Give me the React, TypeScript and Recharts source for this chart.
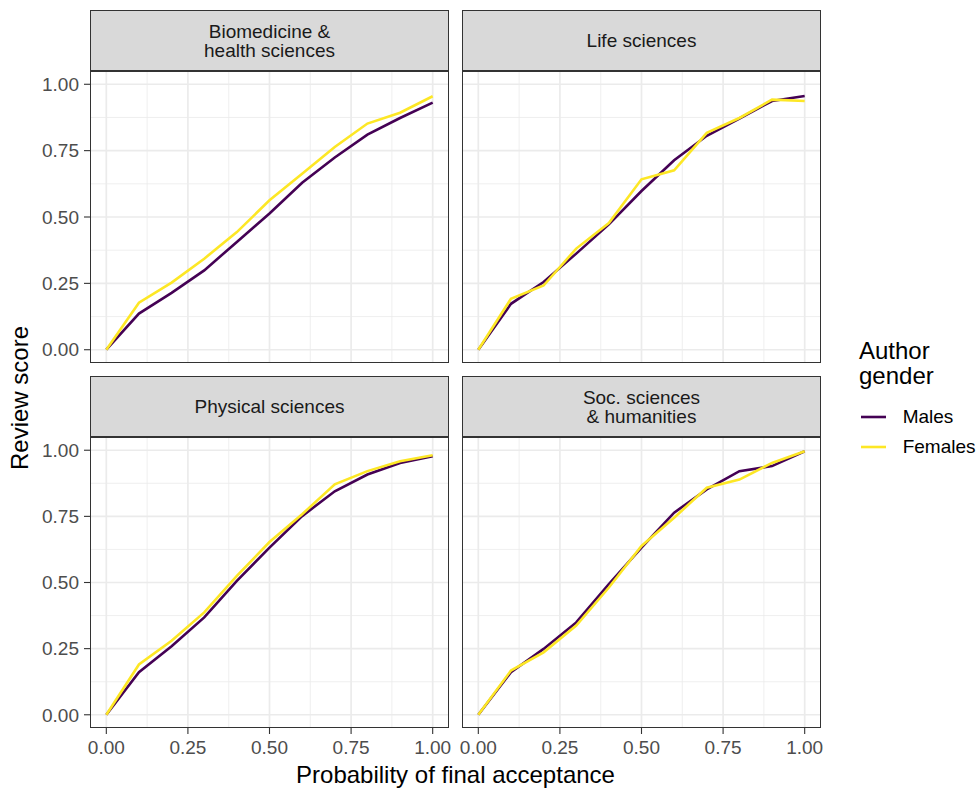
import React from 'react';
import { LineChart, Line, XAxis, YAxis, CartesianGrid } from 'recharts';

const FONT = '"Liberation Sans", Arial, Helvetica, sans-serif';

// ---- data ----
const probability = [0, 0.1, 0.2, 0.3, 0.4, 0.5, 0.6, 0.7, 0.8, 0.9, 1.0];
const bioMales = [0, 0.136, 0.214, 0.299, 0.406, 0.513, 0.629, 0.724, 0.81, 0.873, 0.931];
const bioFemales = [0, 0.177, 0.253, 0.343, 0.443, 0.563, 0.663, 0.764, 0.852, 0.893, 0.955];
const lifeMales = [0, 0.173, 0.255, 0.362, 0.472, 0.598, 0.714, 0.806, 0.871, 0.937, 0.956];
const lifeFemales = [0, 0.192, 0.242, 0.381, 0.477, 0.642, 0.676, 0.817, 0.873, 0.942, 0.937];
const physMales = [0, 0.161, 0.259, 0.368, 0.506, 0.632, 0.751, 0.845, 0.908, 0.952, 0.977];
const physFemales = [0, 0.19, 0.28, 0.387, 0.525, 0.653, 0.758, 0.871, 0.921, 0.958, 0.981];
const socMales = [0, 0.161, 0.249, 0.349, 0.494, 0.632, 0.764, 0.852, 0.921, 0.94, 0.996];
const socFemales = [0, 0.167, 0.236, 0.337, 0.481, 0.638, 0.745, 0.858, 0.889, 0.952, 0.996];

const facetTitles = ['Biomedicine &\nhealth sciences', 'Life sciences', 'Physical sciences', 'Soc. sciences\n& humanities'];
const seriesNames = ['Males', 'Females'];
const seriesColors = ['#440154', '#FDE725'];
const majorTicks = [0, 0.25, 0.5, 0.75, 1];
const minorTicks = [0.125, 0.375, 0.625, 0.875];
const xTitle = 'Probability of final acceptance';
const yTitle = 'Review score';
const legendTitle = 'Author\ngender';

const build = (m: number[], f: number[]) => probability.map((p, i) => ({ p, m: m[i], f: f[i] }));

const facets = [
  { title: facetTitles[0], data: build(bioMales, bioFemales) },
  { title: facetTitles[1], data: build(lifeMales, lifeFemales) },
  { title: facetTitles[2], data: build(physMales, physFemales) },
  { title: facetTitles[3], data: build(socMales, socFemales) },
];

// layout
const PW = 359;
const PAD = 24;
const layout = [
  { x: 90, y: 71, h: 292, showX: false, showY: true, stripTop: 10 },
  { x: 462, y: 71, h: 292, showX: false, showY: false, stripTop: 10 },
  { x: 90, y: 437, h: 291, showX: true, showY: true, stripTop: 376 },
  { x: 462, y: 437, h: 291, showX: true, showY: false, stripTop: 376 },
];

const tickStyle = { fontSize: 19, fill: '#4D4D4D', fontFamily: FONT };
const fmt = (v: number) => v.toFixed(2);

function Panel({ idx }: { idx: number }) {
  const L = layout[idx];
  const F = facets[idx];
  const yW = L.showY ? 90 : 0;
  const xH = L.showX ? 40 : 0;
  const lines = F.title.split('\n');
  return (
    <>
      <div
        style={{
          position: 'absolute',
          left: L.x,
          top: L.stripTop,
          width: PW,
          height: L.y - L.stripTop,
          boxSizing: 'border-box',
          background: '#D9D9D9',
          border: '1.1px solid #333333',
          display: 'flex',
          flexDirection: 'column',
          justifyContent: 'center',
          alignItems: 'center',
          fontFamily: FONT,
          fontSize: 19,
          lineHeight: '19px',
          color: '#1A1A1A',
        }}
      >
        {lines.map((t, i) => (
          <div key={i}>{t}</div>
        ))}
      </div>
      <div style={{ position: 'absolute', left: L.x - yW - PAD, top: L.y }}>
        <LineChart
          width={PW + yW + 2 * PAD}
          height={L.h + xH}
          data={F.data}
          margin={{ top: 0, right: PAD, bottom: 0, left: PAD }}
        >
          <CartesianGrid
            stroke="#EBEBEB"
            strokeWidth={0.8}
            horizontalValues={minorTicks}
            verticalValues={minorTicks}
          />
          <CartesianGrid
            stroke="#EBEBEB"
            strokeWidth={1.7}
            horizontalValues={majorTicks}
            verticalValues={majorTicks}
          />
          <XAxis
            dataKey="p"
            type="number"
            domain={[-0.05, 1.05]}
            allowDataOverflow
            ticks={majorTicks}
            tickFormatter={fmt}
            hide={!L.showX}
            height={xH || 30}
            axisLine={false}
            tickLine={{ stroke: '#333333', strokeWidth: 1.1 }}
            tickSize={6}
            tickMargin={7}
            tick={tickStyle}
            interval={0}
          />
          <YAxis
            type="number"
            domain={[-0.05, 1.05]}
            allowDataOverflow
            ticks={majorTicks}
            tickFormatter={fmt}
            hide={!L.showY}
            width={yW || 60}
            axisLine={false}
            tickLine={{ stroke: '#333333', strokeWidth: 1.1 }}
            tickSize={6}
            tickMargin={5}
            tick={tickStyle}
            interval={0}
          />
          <Line
            dataKey="m"
            name={seriesNames[0]}
            stroke={seriesColors[0]}
            strokeWidth={2.6}
            dot={false}
            activeDot={false}
            isAnimationActive={false}
          />
          <Line
            dataKey="f"
            name={seriesNames[1]}
            stroke={seriesColors[1]}
            strokeWidth={2.6}
            dot={false}
            activeDot={false}
            isAnimationActive={false}
          />
        </LineChart>
      </div>
      <div
        style={{
          position: 'absolute',
          left: L.x,
          top: L.y,
          width: PW,
          height: L.h,
          boxSizing: 'border-box',
          border: '1.1px solid #333333',
          pointerEvents: 'none',
        }}
      />
    </>
  );
}

export default function App() {
  const lt = legendTitle.split('\n');
  return (
    <div style={{ position: 'absolute', left: 0, top: 0, width: 980, height: 788, background: '#fff', fontFamily: FONT }}>
      {[0, 1, 2, 3].map((i) => (
        <Panel key={i} idx={i} />
      ))}
      <div
        style={{
          position: 'absolute',
          left: 19.5 - 150,
          top: 398 - 12,
          width: 300,
          height: 24,
          lineHeight: '24px',
          fontSize: 24,
          textAlign: 'center',
          color: '#000',
          transform: 'rotate(-90deg)',
          whiteSpace: 'nowrap',
        }}
      >
        {yTitle}
      </div>
      <div
        style={{
          position: 'absolute',
          left: 455.5 - 250,
          top: 762.5,
          width: 500,
          lineHeight: '24px',
          fontSize: 24,
          textAlign: 'center',
          color: '#000',
          whiteSpace: 'nowrap',
        }}
      >
        {xTitle}
      </div>
      <div style={{ position: 'absolute', left: 859, top: 338.2, fontSize: 24, lineHeight: '25px', color: '#000' }}>
        {lt.map((t, i) => (
          <div key={i}>{t}</div>
        ))}
      </div>
      {seriesNames.map((n, i) => (
        <React.Fragment key={n}>
          <svg style={{ position: 'absolute', left: 861, top: 416.7 + i * 30 - 5 }} width={25} height={10}>
            <line x1={0} x2={25} y1={5} y2={5} stroke={seriesColors[i]} strokeWidth={2.6} />
          </svg>
          <div
            style={{
              position: 'absolute',
              left: 902.7,
              top: 407.2 + i * 30,
              fontSize: 19,
              lineHeight: '19px',
              color: '#000',
              whiteSpace: 'nowrap',
            }}
          >
            {n}
          </div>
        </React.Fragment>
      ))}
    </div>
  );
}
